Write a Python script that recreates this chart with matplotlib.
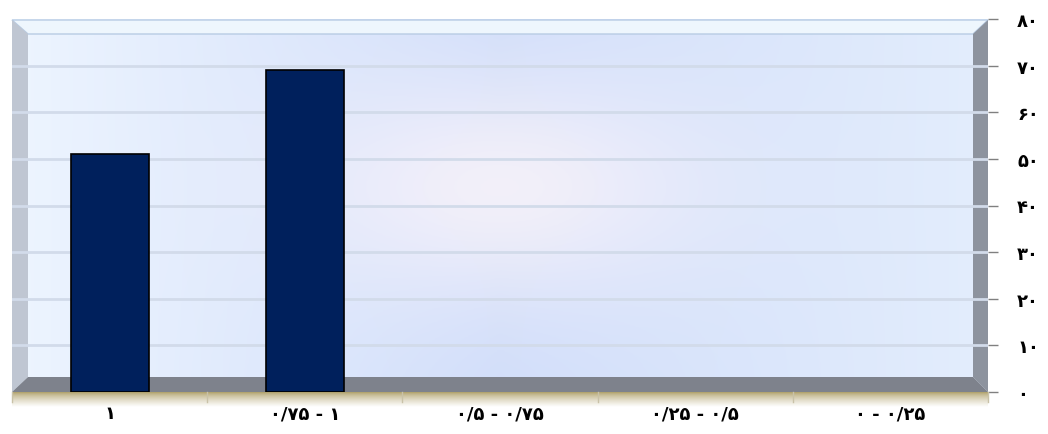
import numpy as np
import matplotlib.pyplot as plt
from matplotlib.patches import Polygon

# data
categories = ['۱', '۰/۷۵ - ۱', '۰/۵ - ۰/۷۵', '۰/۲۵ - ۰/۵', '۰ - ۰/۲۵']
values = [51, 69, 0, 0, 0]
y_ticks = [0, 10, 20, 30, 40, 50, 60, 70, 80]
y_labels = ['۰', '۱۰', '۲۰', '۳۰', '۴۰', '۵۰', '۶۰', '۷۰', '۸۰']

plt.rcParams['font.family'] = ['DejaVu Sans']

W, H = 1048, 435
fig = plt.figure(figsize=(W / 100, H / 100), dpi=100)

# plot box in pixels
x0, x1 = 12, 988
y_top, y_bot = 20, 393
ax = fig.add_axes([x0 / W, (H - y_bot) / H, (x1 - x0) / W, (y_bot - y_top) / H])
ax.set_xlim(-0.5, len(categories) - 0.5)
ax.set_ylim(0, 80)


def px(x, y):
    # figure pixel (from top-left) -> axes fraction
    return ((x - x0) / (x1 - x0), (y_bot - y) / (y_bot - y_top))


# background of the back wall: soft blue with a pale lavender glow
gx = np.linspace(0, 1, 300)
gy = np.linspace(0, 1, 150)
X, Y = np.meshgrid(gx, gy)
base_l = np.array([0.93, 0.96, 1.0])
base_m = np.array([0.82, 0.87, 0.98])
t = np.clip(np.abs(X - 0.5) * 2, 0, 1)[..., None]
side = np.clip((X - 0.0) / 0.5, 0, 1)[..., None]
img = base_l * (1 - side) + base_m * side
img = np.where(X[..., None] > 0.5, base_m * (1 - t) + np.array([0.89, 0.93, 0.99]) * t, img)
glow = np.exp(-(((X - 0.5) / 0.22) ** 2 + ((Y - 0.55) / 0.3) ** 2))[..., None]
img = img * (1 - glow) + np.array([0.95, 0.94, 0.98]) * glow
ax.imshow(img, extent=[0, 1, 0, 1], transform=ax.transAxes, aspect='auto',
          origin='lower', zorder=0)

# top bevel
ax.add_patch(Polygon([px(12, 21), px(988, 21), px(973, 35), px(28, 35)],
                     closed=True, transform=ax.transAxes, facecolor='#eef6fd',
                     edgecolor='#b8cce4', lw=1, zorder=1, clip_on=False))
# left wall
ax.add_patch(Polygon([px(12, 21), px(28, 35), px(28, 378), px(12, 393)],
                     closed=True, transform=ax.transAxes, facecolor='#bfc6d2',
                     edgecolor='none', zorder=1, clip_on=False))
# right wall
ax.add_patch(Polygon([px(988, 21), px(973, 35), px(973, 378), px(988, 393)],
                     closed=True, transform=ax.transAxes, facecolor='#8d939e',
                     edgecolor='none', zorder=1, clip_on=False))
# floor
ax.add_patch(Polygon([px(12, 393), px(988, 393), px(973, 378), px(28, 378)],
                     closed=True, transform=ax.transAxes, facecolor='#7e828c',
                     edgecolor='none', zorder=1, clip_on=False))

# shadow under the floor
sh = np.linspace(0, 1, 40)[:, None, None] ** 0.7
shadow = np.array([0.68, 0.62, 0.40]) * (1 - sh) + np.array([1.0, 1.0, 1.0]) * sh
shadow = np.repeat(shadow, 2, axis=1)
l, b = px(12, 393)
r, bb = px(988, 408)
ax.imshow(shadow, extent=[l, r, bb, b], transform=ax.transAxes, aspect='auto',
          origin='upper', zorder=1, clip_on=False)

# gridlines
for v in y_ticks[1:-1]:
    ax.axhline(v, color='#d2dbea', lw=2, zorder=2)

# category separators on the floor edge
for i in range(len(categories) + 1):
    xx = i - 0.5
    ax.plot([xx, xx], [0, -2.2], color='#c9c2a8', lw=1, zorder=2, clip_on=False)

# bars (no outline on empty bars)
xpos = np.arange(len(categories))
edge_w = [1.2 if v > 0 else 0 for v in values]
ax.bar(xpos, values, width=0.4, color='#00205c', edgecolor='black',
       linewidth=edge_w, zorder=3)

# axes styling
for s in ax.spines.values():
    s.set_visible(False)
ax.set_xticks(xpos)
ax.set_xticklabels(categories, fontsize=13, fontweight='bold')
ax.tick_params(axis='x', length=0, pad=9)
ax.yaxis.tick_right()
ax.set_yticks(y_ticks)
ax.set_yticklabels(y_labels, fontsize=13, fontweight='bold')
ax.tick_params(axis='y', length=7, width=1, color='#808080', pad=14)

fig.savefig('out.png', dpi=100)
